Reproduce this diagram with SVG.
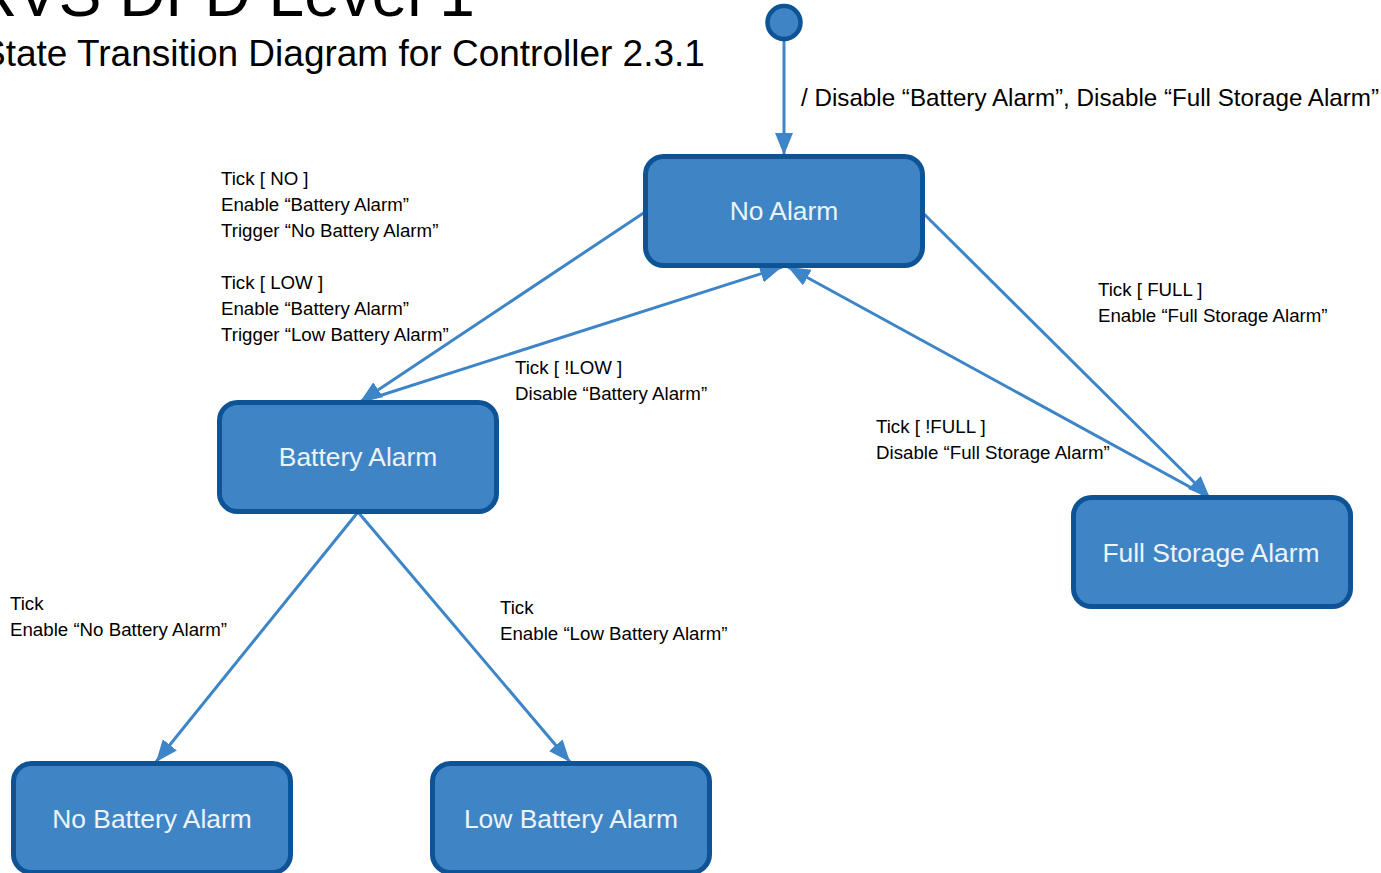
<svg xmlns="http://www.w3.org/2000/svg" width="1381" height="873" viewBox="0 0 1381 873">
  <style>
    .state rect { fill: #3f85c6; stroke: #0e5395; stroke-width: 5; }
    .state text { fill: #eef3fa; font-family: "Liberation Sans", Arial, sans-serif; font-size: 26.4px; text-anchor: middle; }
    .conn { stroke: #3d85c6; stroke-width: 3; fill: none; marker-end: url(#arrow); }
    .lbl { font-family: "Liberation Sans", Arial, sans-serif; font-size: 18.7px; fill: #000; }
    .big { font-size: 24.2px; }
    .title { font-family: "Liberation Sans", Arial, sans-serif; fill: #000; }
  </style>
  <defs>
    <marker id="arrow" markerUnits="userSpaceOnUse" markerWidth="24" markerHeight="20" refX="22" refY="9" orient="auto">
      <path d="M0,0 L22,9 L0,18 z" fill="#3d85c6"/>
    </marker>
  </defs>
  <rect width="1381" height="873" fill="#ffffff"/>

  <text class="title" x="-29" y="16" font-size="64">RVS DFD Level 1</text>
  <text class="title" x="-19" y="66" font-size="37">State Transition Diagram for Controller 2.3.1</text>

  <g id="connectors">
    <line class="conn" x1="784" y1="40" x2="784" y2="155"/>
    <line class="conn" x1="645" y1="212" x2="360" y2="402"/>
    <line class="conn" x1="360" y1="402" x2="782" y2="267"/>
    <line class="conn" x1="1210" y1="498" x2="788" y2="267"/>
    <line class="conn" x1="922" y1="212" x2="1210" y2="498"/>
    <line class="conn" x1="358" y1="512" x2="156" y2="762"/>
    <line class="conn" x1="358" y1="512" x2="570" y2="762"/>
  </g>

  <g id="initial">
    <circle cx="784" cy="22.5" r="16.5" fill="#3f85c6" stroke="#0e5395" stroke-width="4.5"/>
  </g>

  <g id="no-alarm" class="state">
    <rect x="645.5" y="156.5" width="277" height="109" rx="18"/>
    <text x="784" y="220">No Alarm</text>
  </g>
  <g id="battery-alarm" class="state">
    <rect x="219.5" y="402.5" width="277" height="109" rx="18"/>
    <text x="358" y="466">Battery Alarm</text>
  </g>
  <g id="full-storage-alarm" class="state">
    <rect x="1073.5" y="497.5" width="277" height="109" rx="18"/>
    <text x="1211" y="562">Full Storage Alarm</text>
  </g>
  <g id="no-battery-alarm" class="state">
    <rect x="13.5" y="763.5" width="277" height="109" rx="18"/>
    <text x="152" y="828">No Battery Alarm</text>
  </g>
  <g id="low-battery-alarm" class="state">
    <rect x="432.5" y="763.5" width="277" height="109" rx="18"/>
    <text x="571" y="828">Low Battery Alarm</text>
  </g>

  <g id="labels">
    <text class="lbl big" x="801" y="105.5">/ Disable “Battery Alarm”, Disable “Full Storage Alarm”</text>
    <text class="lbl" x="221" y="184.5">Tick [ NO ]</text>
    <text class="lbl" x="221" y="210.5">Enable “Battery Alarm”</text>
    <text class="lbl" x="221" y="236.5">Trigger “No Battery Alarm”</text>
    <text class="lbl" x="221" y="288.5">Tick [ LOW ]</text>
    <text class="lbl" x="221" y="314.5">Enable “Battery Alarm”</text>
    <text class="lbl" x="221" y="340.5">Trigger “Low Battery Alarm”</text>
    <text class="lbl" x="515" y="373.5">Tick [ !LOW ]</text>
    <text class="lbl" x="515" y="399.5">Disable “Battery Alarm”</text>
    <text class="lbl" x="1098" y="295.5">Tick [ FULL ]</text>
    <text class="lbl" x="1098" y="321.5">Enable “Full Storage Alarm”</text>
    <text class="lbl" x="876" y="432.5">Tick [ !FULL ]</text>
    <text class="lbl" x="876" y="458.5">Disable “Full Storage Alarm”</text>
    <text class="lbl" x="10" y="609.5">Tick</text>
    <text class="lbl" x="10" y="635.5">Enable “No Battery Alarm”</text>
    <text class="lbl" x="500" y="613.5">Tick</text>
    <text class="lbl" x="500" y="639.5">Enable “Low Battery Alarm”</text>
  </g>
</svg>
